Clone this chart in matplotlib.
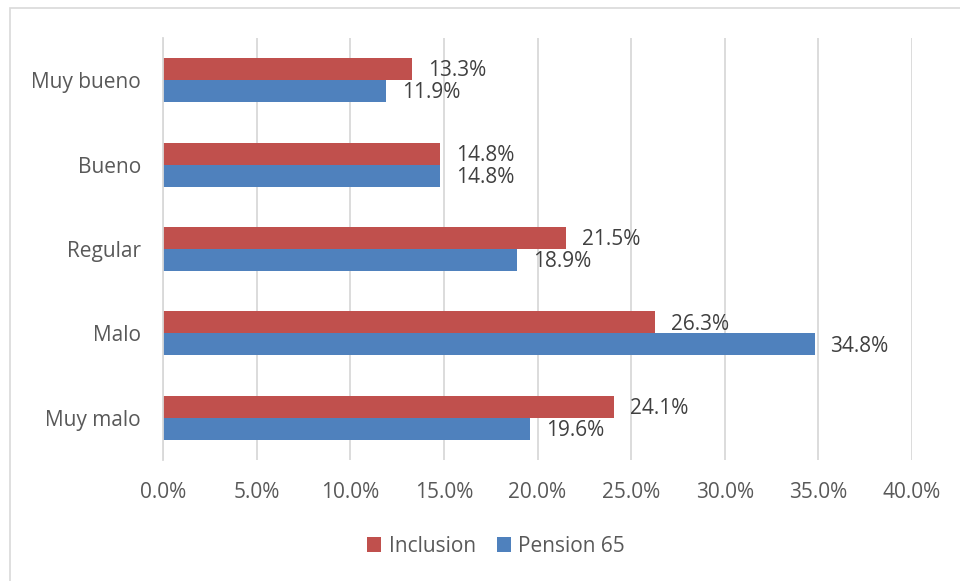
import matplotlib.pyplot as plt
import numpy as np
from matplotlib.patches import Rectangle

categories = ["Muy bueno", "Bueno", "Regular", "Malo", "Muy malo"]
inclusion = [13.3, 14.8, 21.5, 26.3, 24.1]
pension65 = [11.9, 14.8, 18.9, 34.8, 19.6]
xticks = [0, 5, 10, 15, 20, 25, 30, 35, 40]

red = "#C0504D"
blue = "#4F81BD"
txt = "#595959"
fs = 15

plt.rcParams["font.family"] = ["Open Sans", "DejaVu Sans"]

fig = plt.figure(figsize=(9.6, 5.81), dpi=100, facecolor="white")
ax = fig.add_axes([163 / 960, 1 - 460 / 581, (912 - 163) / 960, (460 - 38) / 581])

# outer chart border (only top/left visible in the reference crop)
fig.patches.append(Rectangle((10 / 960, -0.1), 1.2, 1 - 8 / 581 + 0.1,
                             transform=fig.transFigure, fill=False,
                             edgecolor="#D9D9D9", linewidth=1.2))

y = np.arange(len(categories))
h = 0.26
bi = ax.barh(y - h / 2, inclusion, height=h, color=red, label="Inclusion")
bp = ax.barh(y + h / 2, pension65, height=h, color=blue, label="Pension 65")

for bars, vals in ((bi, inclusion), (bp, pension65)):
    for b, v in zip(bars, vals):
        ax.text(v + 0.85, b.get_y() + b.get_height() / 2 + 0.02, f"{v:.1f}%",
                va="center", ha="left", fontsize=fs, color="#404040")

ax.set_xlim(0, 40)
ax.set_ylim(len(categories) - 0.5, -0.5)
ax.set_xticks(xticks)
ax.set_xticklabels([f"{t:.1f}%" for t in xticks])
ax.set_yticks(y)
ax.set_yticklabels(categories)
ax.tick_params(axis="both", length=0, labelsize=fs, colors=txt)
ax.tick_params(axis="x", pad=16)
ax.tick_params(axis="y", pad=16)

ax.grid(axis="x", color="#D9D9D9", linewidth=1.3)
ax.set_axisbelow(True)
for s in ("top", "right", "bottom"):
    ax.spines[s].set_visible(False)
ax.spines["left"].set_color("#D9D9D9")
ax.spines["left"].set_linewidth(1.3)

leg = fig.legend(handles=[bi, bp], labels=["Inclusion", "Pension 65"],
                 loc="center", bbox_to_anchor=(496 / 960, 1 - 546 / 581),
                 ncol=2, frameon=False, fontsize=fs, handlelength=0.7,
                 handleheight=0.7, handletextpad=0.35, columnspacing=1.0)
for t in leg.get_texts():
    t.set_color(txt)

fig.savefig("out.png", dpi=100, facecolor="white")
